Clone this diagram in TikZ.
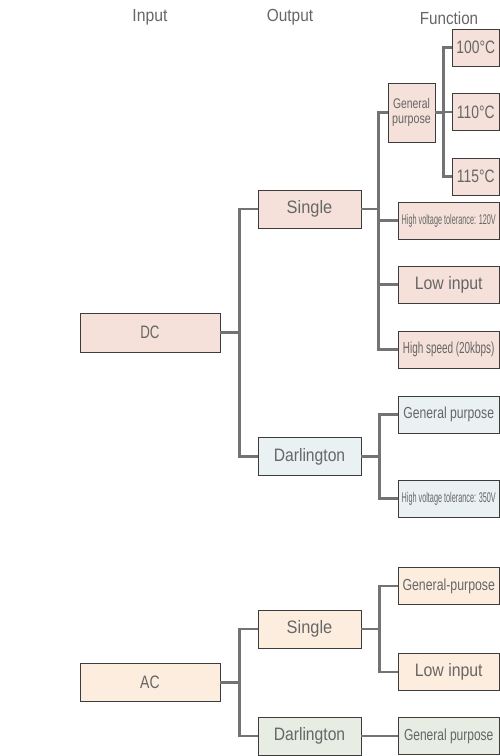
\documentclass[tikz,border=0pt]{standalone}
\usepackage{fontspec}
\setmainfont{Liberation Sans}
\usepackage{graphicx}
\definecolor{txt}{HTML}{666666}
\definecolor{ln}{HTML}{737373}
\definecolor{bd}{HTML}{3C3C3C}
\definecolor{dcfill}{HTML}{F5E1D9}
\definecolor{dcdfill}{HTML}{E9F1F3}
\definecolor{acfill}{HTML}{FDEDDF}
\definecolor{acdfill}{HTML}{E7EDE2}
\newcommand\sqz[2]{\scalebox{#1}[1]{#2}}
\tikzset{
  box/.style={draw=bd, line width=0.9pt, inner sep=0pt, text=txt, align=center, font=\fontsize{18}{20}\selectfont},
  dcbox/.style={box, fill=dcfill},
  dcdbox/.style={box, fill=dcdfill},
  acbox/.style={box, fill=acfill},
  acdbox/.style={box, fill=acdfill},
  conn/.style={draw=ln, line width=2.4pt},
  hdr/.style={text=txt, inner sep=0pt, font=\fontsize{17.5}{19}\selectfont},
}
\begin{document}
\begin{tikzpicture}[x=1pt,y=-1pt]
\useasboundingbox (0,0) rectangle (500,756);
% headers
\node[hdr] (hin) at (150,17) {\sqz{0.9}{Input}};
\node[hdr] (hout) at (290,17) {\sqz{0.88}{Output}};
\node[hdr] (hfun) at (449,18) {\sqz{0.87}{Function}};
% DC tree
\node[dcbox, minimum width=140pt, minimum height=39pt] (dc) at (150,332.5) {\sqz{0.74}{DC}};
\node[dcbox, minimum width=103pt, minimum height=38pt] (dcs) at (309.5,209) {\sqz{0.91}{Single}};
\node[dcdbox, minimum width=103pt, minimum height=38pt] (dcd) at (309.5,456.5) {\sqz{0.87}{Darlington}};
\node[dcbox, minimum width=47pt, minimum height=59pt, font=\fontsize{14}{15.5}\selectfont] (gp) at (411.5,112.5) {\sqz{0.74}{General}\\\sqz{0.765}{purpose}};
\node[dcbox, minimum width=47.5pt, minimum height=37pt] (t100) at (475.75,47.5) {\sqz{0.77}{100°C}};
\node[dcbox, minimum width=47.5pt, minimum height=37pt] (t110) at (475.75,112) {\sqz{0.77}{110°C}};
\node[dcbox, minimum width=47.5pt, minimum height=37pt] (t115) at (475.75,176.5) {\sqz{0.77}{115°C}};
\node[dcbox, minimum width=101.5pt, minimum height=37pt, font=\fontsize{14}{15}\selectfont] (hv120) at (448.75,220.5) {\sqz{0.52}{High voltage tolerance: 120V}};
\node[dcbox, minimum width=101.5pt, minimum height=37pt] (low) at (448.75,284.5) {\sqz{0.88}{Low input}};
\node[dcbox, minimum width=101.5pt, minimum height=37pt, font=\fontsize{16}{18}\selectfont] (hs) at (448.75,349.5) {\sqz{0.62}{High speed (20kbps)}};
\node[dcdbox, minimum width=101.5pt, minimum height=37pt, font=\fontsize{16}{18}\selectfont] (dgp) at (448.75,414.5) {\sqz{0.76}{General purpose}};
\node[dcdbox, minimum width=101.5pt, minimum height=37pt, font=\fontsize{14}{15}\selectfont] (hv350) at (448.75,498.5) {\sqz{0.52}{High voltage tolerance: 350V}};
% AC tree
\node[acbox, minimum width=140pt, minimum height=38pt] (ac) at (150,682.5) {\sqz{0.78}{AC}};
\node[acbox, minimum width=103pt, minimum height=38pt] (acs) at (309.5,629) {\sqz{0.91}{Single}};
\node[acdbox, minimum width=103pt, minimum height=38pt] (acd) at (309.5,736) {\sqz{0.87}{Darlington}};
\node[acbox, minimum width=101.5pt, minimum height=37pt, font=\fontsize{16}{18}\selectfont] (agp) at (448.75,586) {\sqz{0.77}{General-purpose}};
\node[acbox, minimum width=101.5pt, minimum height=37pt] (alow) at (448.75,672) {\sqz{0.88}{Low input}};
\node[acdbox, minimum width=101.5pt, minimum height=37pt, font=\fontsize{16}{18}\selectfont] (adgp) at (448.75,736) {\sqz{0.75}{General purpose}};
% connectors
\coordinate (j1) at ([xshift=19pt]dc.east);
\draw[conn] (dc.east) -- (j1);
\draw[conn] (dcs.west) -| (j1);
\draw[conn] (dcd.west) -| (j1);
\coordinate (j2) at ([xshift=17pt]dcs.east);
\draw[conn] (dcs.east) -- (j2);
\draw[conn] (gp.west) -| (j2);
\draw[conn] (hv120.west) -| (j2);
\draw[conn] (low.west) -| (j2);
\draw[conn] (hs.west) -| (j2);
\coordinate (j3) at ([xshift=8pt]gp.east);
\draw[conn] (gp.east) -- (j3);
\draw[conn] (t100.west) -| (j3);
\draw[conn] (t110.west) -| (j3);
\draw[conn] (t115.west) -| (j3);
\coordinate (j4) at ([xshift=18pt]dcd.east);
\draw[conn] (dcd.east) -- (j4);
\draw[conn] (dgp.west) -| (j4);
\draw[conn] (hv350.west) -| (j4);
\coordinate (j5) at ([xshift=19pt]ac.east);
\draw[conn] (ac.east) -- (j5);
\draw[conn] (acs.west) -| (j5);
\draw[conn] (acd.west) -| (j5);
\coordinate (j6) at ([xshift=18pt]acs.east);
\draw[conn] (acs.east) -- (j6);
\draw[conn] (agp.west) -| (j6);
\draw[conn] (alow.west) -| (j6);
\draw[conn] (acd.east) -- (adgp.west);
\end{tikzpicture}
\end{document}
